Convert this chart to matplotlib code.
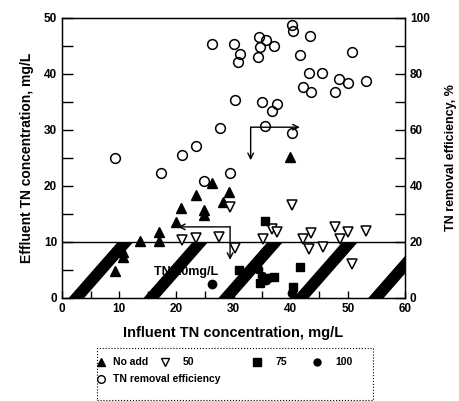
import numpy as np
import matplotlib
matplotlib.use('Agg')
from matplotlib import pyplot as plt
from matplotlib.ticker import MultipleLocator
from matplotlib.lines import Line2D
from matplotlib.patches import Rectangle

plt.rcParams['font.family'] = ['Liberation Sans', 'DejaVu Sans']
plt.rcParams['font.weight'] = 'bold'

# No add (filled up-triangles)
noadd_x = [9.3, 10.7, 10.7, 13.6, 17.0, 17.0, 20.0, 20.8, 23.4, 24.8, 24.8, 26.2, 28.1, 29.2, 39.9]
noadd_y = [4.8, 7.4, 8.3, 10.2, 10.2, 11.7, 13.5, 16.0, 18.4, 14.9, 15.8, 20.5, 17.1, 19.0, 25.2]

# 50 (open down-triangles)
d50_x = [21.0, 23.4, 27.4, 29.4, 30.3, 35.1, 36.8, 37.6, 40.2, 42.2, 43.2, 43.5, 45.6, 47.7, 48.6, 50.1, 50.8, 53.1]
d50_y = [10.4, 10.7, 10.9, 16.3, 8.9, 10.5, 12.3, 11.7, 16.6, 10.5, 8.7, 11.6, 9.1, 12.7, 10.5, 11.7, 6.1, 12.0]

# 75 (filled squares)
d75_x = [30.9, 34.6, 35.5, 37.1, 40.4, 41.7]
d75_y = [5.0, 2.6, 13.8, 3.8, 1.9, 5.6]

# 100 (filled circles)
d100_x = [26.3, 34.3, 35.0, 35.6, 36.0, 40.2]
d100_y = [2.5, 5.2, 4.0, 3.2, 3.6, 0.9]

# TN removal efficiency, % (right axis)
eff_x = [9.3, 17.4, 21.0, 23.5, 24.8, 26.2, 27.6, 29.4, 30.1, 30.2, 30.8, 31.2,
         34.2, 34.5, 34.7, 35.0, 35.5, 35.7, 36.8, 37.1, 37.6, 40.2, 40.4, 40.2,
         41.6, 42.2, 43.2, 43.4, 43.5, 45.5, 47.7, 48.5, 50.1, 50.7, 53.1]
eff_y = [50.0, 44.5, 51.1, 54.4, 41.7, 90.7, 60.7, 44.5, 90.6, 70.8, 84.2, 87.0,
         86.0, 93.1, 89.5, 70.1, 61.5, 92.1, 66.9, 90.0, 69.3, 97.5, 95.5, 59.0,
         86.8, 75.5, 80.2, 93.7, 73.7, 80.4, 73.5, 78.3, 76.7, 88.0, 77.5]

limit = 10  # TN 10mg/L

W, H = 459, 401
fig = plt.figure(figsize=(W / 100, H / 100), dpi=100)
ax = fig.add_axes([62 / W, 1 - 298 / H, 343 / W, 280 / H])
ax.set_xlim(0, 60)
ax.set_ylim(0, 50)

# hatched band under the limit: thick diagonal stripes
yy = np.array([0, limit])
for x0 in np.arange(1.0, 60, 13.1):
    ax.fill_betweenx(yy, x0 + 0.86 * yy, x0 + 2.7 + 0.86 * yy, color='black', lw=0, zorder=2)
ax.axhline(limit, color='black', lw=1.0, zorder=2)
ax.text(21.7, 4.6, 'TN 10mg/L', ha='center', va='center', fontsize=9, fontweight='bold', zorder=1)

ax.plot(noadd_x, noadd_y, '^', color='black', ms=6.5, zorder=4)
ax.plot(d50_x, d50_y, 'v', mfc='white', mec='black', mew=1.1, ms=7, zorder=4)
ax.plot(d75_x, d75_y, 's', color='black', ms=5.5, zorder=4)
ax.plot(d100_x, d100_y, 'o', color='black', ms=6, zorder=4)

# elbow arrows
arr = dict(arrowstyle='->', color='black', lw=1.0, shrinkA=0, shrinkB=0)
ax.annotate('', xy=(33.0, 24.6), xytext=(33.0, 30.5), arrowprops=arr)
ax.annotate('', xy=(41.6, 30.5), xytext=(33.0, 30.5), arrowprops=arr)
ax.annotate('', xy=(20.3, 12.7), xytext=(29.4, 12.7), arrowprops=arr)
ax.annotate('', xy=(29.4, 6.8), xytext=(29.4, 12.7), arrowprops=arr)

ax.xaxis.set_major_locator(MultipleLocator(10))
ax.xaxis.set_minor_locator(MultipleLocator(5))
ax.yaxis.set_major_locator(MultipleLocator(10))
ax.yaxis.set_minor_locator(MultipleLocator(5))
ax.tick_params(axis='both', which='both', direction='in', top=False, right=False)
ax.tick_params(axis='y', which='both', length=8, width=1)
ax.tick_params(axis='x', which='both', length=5, width=1)
ax.tick_params(labelsize=8.5)
for s in ax.spines.values():
    s.set_linewidth(1.0)

ax.set_xlabel('Influent TN concentration, mg/L', fontsize=10.5, fontweight='bold', labelpad=8)
ax.set_ylabel('Effluent TN concentration, mg/L', fontsize=10, fontweight='bold', labelpad=7)

ax2 = ax.twinx()
ax2.set_ylim(0, 100)
ax2.plot(eff_x, eff_y, 'o', mfc='none', mec='black', mew=1.1, ms=7)
ax2.yaxis.set_major_locator(MultipleLocator(20))
ax2.yaxis.set_minor_locator(MultipleLocator(10))
ax2.tick_params(axis='y', which='both', direction='in', length=7, width=1, labelsize=8.5)
ax2.set_ylabel('TN removal efficiency, %', fontsize=9, fontweight='bold', labelpad=11)

# legend drawn by hand: dotted box, two rows
fig.add_artist(Rectangle((97 / W, 0.002), 276 / W, 1 - 348 / H - 0.002, transform=fig.transFigure,
                         fill=False, ec='black', lw=0.8, ls=':'))
entries = [('^', 'black', 101, 362, 'No add'),
           ('v', 'white', 165, 362, '50'),
           ('s', 'black', 257, 362, '75'),
           ('o', 'black', 317, 362, '100'),
           ('o', 'white', 101, 379, 'TN removal efficiency')]
for mk, fc, px, py, lab in entries:
    fig.add_artist(Line2D([px / W], [1 - py / H], marker=mk, ms=5.5 if mk != 'o' or fc == 'white' else 5,
                          mfc=fc, mec='black', mew=1.0, ls='none', transform=fig.transFigure))
    fig.text((px + 12 + (6 if px > 150 else 0)) / W, 1 - py / H, lab, fontsize=7.5,
             fontweight='bold', va='center', ha='left')

fig.savefig('out.png', dpi=100)
